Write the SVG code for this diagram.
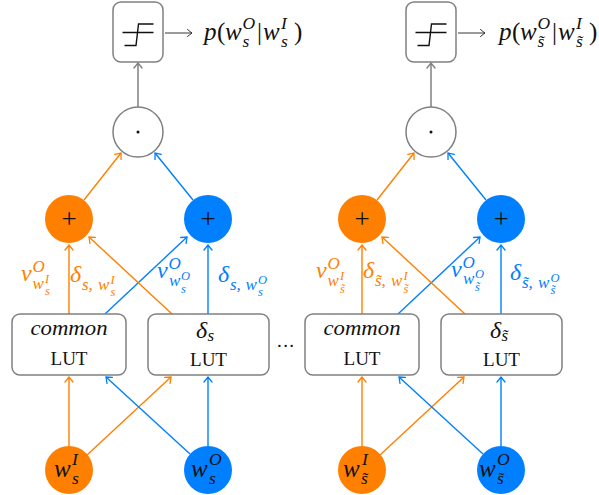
<svg xmlns="http://www.w3.org/2000/svg" width="599" height="495" viewBox="0 0 599 495">
<style>
.box{fill:#fff;stroke:#808080;stroke-width:1.5}
.dotc{fill:#fff;stroke:#808080;stroke-width:1.5}
.orf{fill:#FF8000}
.blf{fill:#0080FF}
.co{stroke:#FF8000;stroke-width:1.4;fill:none;marker-end:url(#ao)}
.cb{stroke:#0080FF;stroke-width:1.4;fill:none;marker-end:url(#ab)}
.cg{stroke:#808080;stroke-width:1.5;fill:none;marker-end:url(#ag)}
.ck{stroke:#222;stroke-width:0.9;fill:none;marker-end:url(#ak)}
.sig{stroke:#111;stroke-width:1.4;fill:none}
text{font-family:"Liberation Serif","Times New Roman",serif}
.it{font-style:italic}
.f1{font-size:24px}
.f2{font-size:17px}
.f3{font-size:12.5px}
.g1{font-size:25px}
.g2{font-size:17.5px}
.lut{font-size:19px}
.pl{font-size:27px}
.to{fill:#FF8000}
.tb{fill:#0080FF}
.tk{fill:#111}
</style>
<defs>
<marker id="ao" viewBox="-6 -5 7 10" refX="0" refY="0" markerWidth="7" markerHeight="10" markerUnits="userSpaceOnUse" orient="auto"><path d="M-5,-4 Q-1.5,-1.2 0,0 Q-1.5,1.2 -5,4" fill="none" stroke="#FF8000" stroke-width="1.3" stroke-linecap="round"/></marker>
<marker id="ab" viewBox="-6 -5 7 10" refX="0" refY="0" markerWidth="7" markerHeight="10" markerUnits="userSpaceOnUse" orient="auto"><path d="M-5,-4 Q-1.5,-1.2 0,0 Q-1.5,1.2 -5,4" fill="none" stroke="#0080FF" stroke-width="1.3" stroke-linecap="round"/></marker>
<marker id="ag" viewBox="-6 -5 7 10" refX="0" refY="0" markerWidth="7" markerHeight="10" markerUnits="userSpaceOnUse" orient="auto"><path d="M-5,-4 Q-1.5,-1.2 0,0 Q-1.5,1.2 -5,4" fill="none" stroke="#808080" stroke-width="1.4" stroke-linecap="round"/></marker>
<marker id="ak" viewBox="-6 -5 7 10" refX="0" refY="0" markerWidth="7" markerHeight="10" markerUnits="userSpaceOnUse" orient="auto"><path d="M-4.5,-3.5 Q-1.5,-1 0,0 Q-1.5,1 -4.5,3.5" fill="none" stroke="#222" stroke-width="0.9" stroke-linecap="round"/></marker>
</defs>

<g id="connectors">
<line class="co" x1="69" y1="446" x2="69" y2="377"/>
<line class="co" x1="87" y1="455" x2="171" y2="377"/>
<line class="cb" x1="208" y1="446" x2="208" y2="377"/>
<line class="cb" x1="190" y1="454" x2="106" y2="377"/>
<line class="co" x1="69" y1="314" x2="69" y2="245"/>
<line class="cb" x1="105" y1="314" x2="187" y2="237"/>
<line class="co" x1="172" y1="314" x2="89" y2="237"/>
<line class="cb" x1="208" y1="314" x2="208" y2="245"/>
<line class="co" x1="84" y1="200" x2="121" y2="153"/>
<line class="cb" x1="193" y1="200" x2="155" y2="153"/>
<line class="cg" x1="138" y1="107" x2="138" y2="63"/>
<line class="ck" x1="165" y1="33" x2="192" y2="33"/>

<line class="co" x1="362" y1="446" x2="362" y2="377"/>
<line class="co" x1="380" y1="455" x2="464" y2="377"/>
<line class="cb" x1="501" y1="446" x2="501" y2="377"/>
<line class="cb" x1="483" y1="454" x2="399" y2="377"/>
<line class="co" x1="362" y1="314" x2="362" y2="245"/>
<line class="cb" x1="398" y1="314" x2="480" y2="237"/>
<line class="co" x1="465" y1="314" x2="382" y2="237"/>
<line class="cb" x1="501" y1="314" x2="501" y2="245"/>
<line class="co" x1="377" y1="200" x2="414" y2="153"/>
<line class="cb" x1="486" y1="200" x2="448" y2="153"/>
<line class="cg" x1="431" y1="107" x2="431" y2="63"/>
<line class="ck" x1="458" y1="33" x2="485" y2="33"/>
</g>

<g id="edge-labels">
<text class="it to"><tspan class="f1" x="21" y="281">v</tspan><tspan class="f2" x="32.5" y="272">O</tspan><tspan class="f2" x="32.5" y="289">w</tspan><tspan class="f3" x="45" y="283">I</tspan><tspan class="f3" x="45" y="295">s</tspan></text>
<text class="it to"><tspan class="f1" x="70" y="282">δ</tspan><tspan class="f2" x="82" y="290">s,</tspan><tspan class="f2" x="98" y="290">w</tspan><tspan class="f3" x="110.5" y="284">I</tspan><tspan class="f3" x="110.5" y="296">s</tspan></text>
<text class="it tb"><tspan class="f1" x="157" y="278">v</tspan><tspan class="f2" x="168.5" y="269">O</tspan><tspan class="f2" x="169" y="286">w</tspan><tspan class="f3" x="181" y="280">O</tspan><tspan class="f3" x="181" y="293">s</tspan></text>
<text class="it tb"><tspan class="f1" x="218" y="282">δ</tspan><tspan class="f2" x="230" y="290">s,</tspan><tspan class="f2" x="245.5" y="290">w</tspan><tspan class="f3" x="258" y="284">O</tspan><tspan class="f3" x="258" y="296">s</tspan></text>

<text class="it to"><tspan class="f1" x="316" y="278">v</tspan><tspan class="f2" x="327.5" y="269">O</tspan><tspan class="f2" x="327.5" y="286">w</tspan><tspan class="f3" x="340" y="280">I</tspan><tspan class="f3" x="340" y="293">s̃</tspan></text>
<text class="it to"><tspan class="f1" x="363" y="278">δ</tspan><tspan class="f2" x="375" y="286">s̃,</tspan><tspan class="f2" x="391" y="286">w</tspan><tspan class="f3" x="403.5" y="280">I</tspan><tspan class="f3" x="403.5" y="293">s̃</tspan></text>
<text class="it tb"><tspan class="f1" x="451" y="277">v</tspan><tspan class="f2" x="462.5" y="268">O</tspan><tspan class="f2" x="463" y="284">w</tspan><tspan class="f3" x="475" y="278">O</tspan><tspan class="f3" x="475" y="291">s̃</tspan></text>
<text class="it tb"><tspan class="f1" x="510" y="280">δ</tspan><tspan class="f2" x="522" y="288">s̃,</tspan><tspan class="f2" x="538" y="288">w</tspan><tspan class="f3" x="550.5" y="282">O</tspan><tspan class="f3" x="550.5" y="294">s̃</tspan></text>
</g>

<g id="sigmoid-left">
<rect class="box" x="113" y="2" width="50" height="60" rx="8"/>
<path class="sig" d="M122.5,32.5 H153.5 M124.5,45.5 H136 L138.5,24 H153.5"/>
</g>
<g id="output-left">
<text class="it tk"><tspan class="g1" x="204" y="40">p</tspan><tspan class="g1" font-style="normal" x="217" y="40">(</tspan><tspan class="g1" x="225" y="40">w</tspan><tspan class="g2" x="242.5" y="29">O</tspan><tspan class="g2" x="242.5" y="47">s</tspan><tspan class="g1" font-style="normal" x="257" y="40">|</tspan><tspan class="g1" x="263" y="40">w</tspan><tspan class="g2" x="281" y="29">I</tspan><tspan class="g2" x="281" y="47">s</tspan><tspan class="g1" font-style="normal" x="294" y="40">)</tspan></text>
</g>
<g id="dot-left">
<circle class="dotc" cx="138" cy="132" r="25"/>
<circle cx="138" cy="132" r="1.5" fill="#111"/>
</g>
<g id="plus-orange-left">
<circle class="orf" cx="69" cy="219" r="24"/>
<text class="pl tk" x="69" y="228" text-anchor="middle">+</text>
</g>
<g id="plus-blue-left">
<circle class="blf" cx="208" cy="219" r="24"/>
<text class="pl tk" x="208" y="228" text-anchor="middle">+</text>
</g>
<g id="lut-common-left">
<rect class="box" x="12" y="314" width="114" height="61" rx="8"/>
<text class="it tk" x="69" y="335" text-anchor="middle" font-size="21" textLength="77" lengthAdjust="spacingAndGlyphs">common</text>
<text class="lut tk" x="69" y="365" text-anchor="middle" textLength="37" lengthAdjust="spacingAndGlyphs">LUT</text>
</g>
<g id="lut-delta-left">
<rect class="box" x="148" y="314" width="121" height="61" rx="8"/>
<text class="it tk"><tspan class="f1" x="196" y="338">δ</tspan><tspan class="f2" x="207.5" y="341">s</tspan></text>
<text class="lut tk" x="208.5" y="366" text-anchor="middle" textLength="37" lengthAdjust="spacingAndGlyphs">LUT</text>
</g>
<g id="input-wI-left">
<circle class="orf" cx="69" cy="470" r="24"/>
<text class="it tk"><tspan class="g1" x="54" y="477">w</tspan><tspan class="g2" x="72" y="465">I</tspan><tspan class="g2" x="72" y="484">s</tspan></text>
</g>
<g id="input-wO-left">
<circle class="blf" cx="208" cy="470" r="24"/>
<text class="it tk"><tspan class="g1" x="191" y="477">w</tspan><tspan class="g2" x="209" y="465">O</tspan><tspan class="g2" x="209" y="484">s</tspan></text>
</g>

<g id="ellipsis">
<text class="lut tk" x="277" y="347" textLength="17" lengthAdjust="spacing">...</text>
</g>

<g id="sigmoid-right">
<rect class="box" x="406" y="2" width="50" height="60" rx="8"/>
<path class="sig" d="M415.5,32.5 H446.5 M417.5,45.5 H429 L431.5,24 H446.5"/>
</g>
<g id="output-right">
<text class="it tk"><tspan class="g1" x="499" y="40">p</tspan><tspan class="g1" font-style="normal" x="512" y="40">(</tspan><tspan class="g1" x="520" y="40">w</tspan><tspan class="g2" x="537.5" y="29">O</tspan><tspan class="g2" x="537.5" y="47">s̃</tspan><tspan class="g1" font-style="normal" x="552" y="40">|</tspan><tspan class="g1" x="558" y="40">w</tspan><tspan class="g2" x="576" y="29">I</tspan><tspan class="g2" x="576" y="47">s̃</tspan><tspan class="g1" font-style="normal" x="589" y="40">)</tspan></text>
</g>
<g id="dot-right">
<circle class="dotc" cx="431" cy="132" r="25"/>
<circle cx="431" cy="132" r="1.5" fill="#111"/>
</g>
<g id="plus-orange-right">
<circle class="orf" cx="362" cy="219" r="24"/>
<text class="pl tk" x="362" y="228" text-anchor="middle">+</text>
</g>
<g id="plus-blue-right">
<circle class="blf" cx="501" cy="219" r="24"/>
<text class="pl tk" x="501" y="228" text-anchor="middle">+</text>
</g>
<g id="lut-common-right">
<rect class="box" x="305" y="314" width="114" height="61" rx="8"/>
<text class="it tk" x="362" y="335" text-anchor="middle" font-size="21" textLength="77" lengthAdjust="spacingAndGlyphs">common</text>
<text class="lut tk" x="362" y="365" text-anchor="middle" textLength="37" lengthAdjust="spacingAndGlyphs">LUT</text>
</g>
<g id="lut-delta-right">
<rect class="box" x="441" y="314" width="121" height="61" rx="8"/>
<text class="it tk"><tspan class="f1" x="490" y="338">δ</tspan><tspan class="f2" x="501.5" y="341">s̃</tspan></text>
<text class="lut tk" x="501.5" y="366" text-anchor="middle" textLength="37" lengthAdjust="spacingAndGlyphs">LUT</text>
</g>
<g id="input-wI-right">
<circle class="orf" cx="362" cy="470" r="24"/>
<text class="it tk"><tspan class="g1" x="343" y="477">w</tspan><tspan class="g2" x="362" y="465">I</tspan><tspan class="g2" x="361" y="484">s̃</tspan></text>
</g>
<g id="input-wO-right">
<circle class="blf" cx="501" cy="470" r="24"/>
<text class="it tk"><tspan class="g1" x="479" y="477">w</tspan><tspan class="g2" x="497" y="465">O</tspan><tspan class="g2" x="497" y="484">s̃</tspan></text>
</g>
</svg>
